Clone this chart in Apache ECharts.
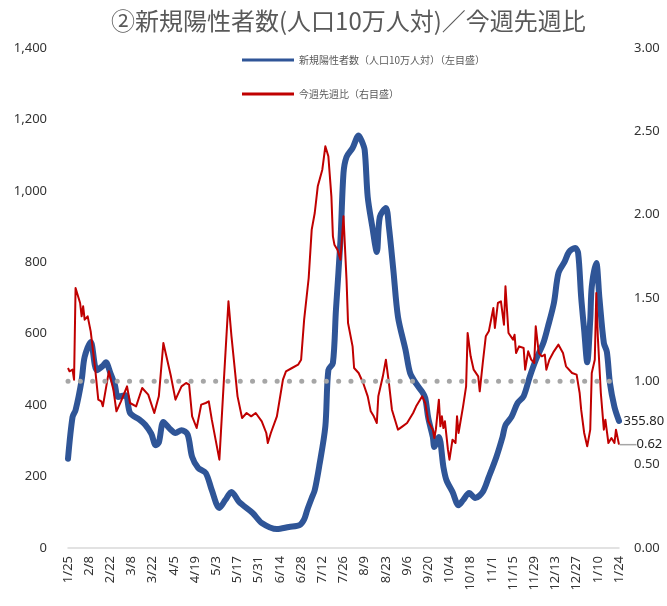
<!DOCTYPE html>
<html>
<head>
<meta charset="utf-8">
<script src="https://cdn.jsdelivr.net/npm/echarts@6/dist/echarts.min.js"></script>
<style>
  html, body { margin: 0; padding: 0; background: #fff; }
  #chart { width: 667px; height: 606px; }
</style>
</head>
<body>
<div id="chart"></div>
<script>
// daily categories 2022/1/25 .. 2023/1/24
var dates = [];
var start = new Date(2022, 0, 25);
for (var i = 0; i < 365; i++) {
  var d = new Date(start.getFullYear(), start.getMonth(), start.getDate() + i);
  dates.push((d.getMonth() + 1) + "/" + d.getDate());
}

var tickLabels = ["1/25", "2/8", "2/22", "3/8", "3/22", "4/5", "4/19", "5/3", "5/17",
  "5/31", "6/14", "6/28", "7/12", "7/26", "8/9", "8/23", "9/6", "9/20", "10/4",
  "10/18", "11/1", "11/15", "11/29", "12/13", "12/27", "1/10", "1/24"];

// 新規陽性者数（人口10万人対） [日, 値]
var casesPoints = [
  [0,250],[3,367],[5,386],[9,470],[11,535],[15,577],[19,498],[23,510],[25,520],[28,490],
  [31,456],[33,423],[38,428],[41,378],[47,360],[51,345],[55,320],[58,288],[60,295],[63,353],
  [67,335],[71,322],[75,330],[79,318],[82,255],[86,224],[91,210],[95,162],[100,112],[104,135],
  [108,157],[113,129],[122,98],[128,70],[138,53],[146,59],[153,64],[156,80],[158,106],[161,140],
  [163,162],[166,230],[170,340],[172,498],[175,518],[177,666],[180,862],[182,1050],[184,1095],[188,1120],
  [192,1155],[194,1140],[196,1114],[198,983],[201,900],[204,829],[206,927],[210,952],[212,899],[215,775],
  [218,647],[223,554],[226,490],[230,460],[234,437],[236,420],[238,364],[241,311],[242,283],[245,311],
  [248,227],[250,190],[254,157],[258,120],[261,134],[265,154],[269,140],[274,157],[278,199],[283,255],
  [287,310],[289,344],[293,367],[297,406],[301,425],[305,479],[309,526],[314,574],[317,619],[321,686],
  [324,770],[328,801],[331,829],[335,840],[337,826],[339,703],[341,610],[343,520],[345,638],[346,731],
  [349,798],[351,703],[354,574],[356,549],[358,462],[361,395],[364,355.8]
];

// 今週先週比 [日, 値]
var ratioPoints = [
  [0,1.08],[1,1.06],[3,1.07],[4,1.01],[5,1.56],[8,1.47],[9,1.39],[10,1.45],[11,1.37],[13,1.39],
  [15,1.30],[18,1.07],[20,0.89],[22,0.88],[23,0.85],[27,1.06],[30,0.95],[32,0.82],[35,0.88],[39,0.97],
  [41,0.87],[45,0.85],[49,0.96],[53,0.92],[57,0.81],[60,0.91],[63,1.23],[65,1.15],[68,1.03],[71,0.89],
  [75,0.97],[78,0.99],[80,0.98],[82,0.79],[85,0.72],[88,0.86],[91,0.87],[93,0.88],[95,0.77],[100,0.53],
  [103,1.01],[106,1.48],[108,1.27],[112,0.91],[115,0.78],[118,0.81],[121,0.79],[124,0.81],[128,0.76],[131,0.69],
  [132,0.63],[134,0.69],[138,0.79],[140,0.90],[142,1.01],[144,1.06],[148,1.08],[152,1.10],[154,1.13],[156,1.37],
  [159,1.62],[161,1.91],[163,2.01],[165,2.17],[166,2.18],[168,2.27],[170,2.41],[172,2.35],[174,2.11],[175,1.87],
  [176,1.82],[178,1.79],[180,1.73],[182,1.99],[184,1.61],[185,1.35],[188,1.21],[189,1.08],[192,1.05],[195,0.99],
  [198,0.91],[200,0.82],[202,0.79],[204,0.75],[205,0.91],[208,1.03],[210,1.13],[212,0.99],[214,0.83],[216,0.77],
  [218,0.71],[221,0.73],[224,0.75],[228,0.81],[230,0.85],[234,0.91],[236,0.87],[238,0.76],[241,0.71],[242,0.66],
  [243,0.71],[245,0.89],[246,0.73],[247,0.79],[248,0.72],[249,0.76],[251,0.59],[252,0.53],[254,0.65],[256,0.63],
  [257,0.79],[258,0.69],[261,0.85],[263,0.97],[264,1.29],[266,1.15],[268,1.07],[271,1.03],[272,0.94],[274,1.11],
  [276,1.27],[278,1.30],[281,1.44],[282,1.32],[284,1.47],[286,1.48],[288,1.34],[289,1.57],[291,1.29],[294,1.25],
  [295,1.28],[296,1.17],[298,1.21],[301,1.20],[302,1.07],[304,1.18],[306,1.13],[308,1.11],[309,1.33],[311,1.17],
  [313,1.15],[315,1.16],[316,1.07],[318,1.13],[321,1.18],[324,1.22],[327,1.17],[329,1.09],[333,1.05],[336,1.04],
  [338,0.93],[339,0.83],[341,0.69],[343,0.61],[345,0.71],[346,1.05],[348,1.13],[349,1.53],[350,1.27],[352,0.93],
  [354,0.71],[355,0.77],[356,0.70],[357,0.63],[359,0.66],[361,0.63],[362,0.71],[364,0.62]
];

// 比 = 1.00 の基準線
var baseLine = [[0, 1], [364, 1]];

var numFont = "Noto Sans";
var jpFont = "Noto Sans CJK JP";

// only the last point carries a (transparent) symbol so that its label is drawn
function withEndLabel(points, labelOpt) {
  return points.map(function (p, i) {
    if (i === points.length - 1) {
      return {
        value: p, symbol: "circle", symbolSize: 1,
        itemStyle: { color: "rgba(0,0,0,0)", borderWidth: 0 },
        label: labelOpt
      };
    }
    return { value: p, symbol: "none" };
  });
}

var myChart = echarts.init(document.getElementById("chart"));
myChart.setOption({
  backgroundColor: "#fff",
  animation: false,
  title: {
    text: "②新規陽性者数(人口10万人対)／今週先週比",
    left: 106,
    top: 4,
    textStyle: { fontFamily: jpFont, fontSize: 24, fontWeight: "normal", color: "#595959" }
  },
  legend: {
    orient: "vertical",
    left: 242,
    top: 53,
    padding: 0,
    itemWidth: 52,
    itemHeight: 3,
    itemGap: 20,
    icon: "rect",
    data: ["新規陽性者数（人口10万人対）（左目盛）", "今週先週比（右目盛）"],
    textStyle: { fontFamily: jpFont, fontSize: 10, color: "#595959", lineHeight: 14 }
  },
  grid: { left: 68, right: 48, top: 48, bottom: 58 },
  xAxis: {
    type: "category",
    data: dates,
    boundaryGap: false,
    axisLine: { lineStyle: { color: "#d9d9d9", width: 1.5 } },
    axisTick: { show: false },
    axisLabel: {
      rotate: 90,
      fontFamily: numFont,
      fontSize: 13,
      color: "#333",
      margin: 8,
      interval: function (idx, val) { return tickLabels.indexOf(val) >= 0; }
    },
    splitLine: { show: false }
  },
  yAxis: [
    {
      type: "value", min: 0, max: 1400, interval: 200,
      axisLine: { show: false }, axisTick: { show: false }, splitLine: { show: false },
      axisLabel: {
        fontFamily: numFont, fontSize: 13, color: "#333", margin: 21,
        formatter: function (v) { return v.toLocaleString("en-US"); }
      }
    },
    {
      type: "value", min: 0, max: 3, interval: 0.5,
      axisLine: { show: false }, axisTick: { show: false }, splitLine: { show: false },
      axisLabel: {
        fontFamily: numFont, fontSize: 13, color: "#333", margin: 15,
        formatter: function (v) { return v.toFixed(2); }
      }
    }
  ],
  series: [
    {
      name: "新規陽性者数（人口10万人対）（左目盛）",
      type: "line",
      yAxisIndex: 0,
      showSymbol: true,
      showAllSymbol: true,
      smooth: 0.3,
      color: "#2f5597",
      lineStyle: { color: "#2f5597", width: 6, cap: "round", join: "round" },
      data: withEndLabel(casesPoints, {
        show: true, position: "right", distance: 4,
        fontFamily: numFont, fontSize: 13, color: "#222",
        formatter: function (p) { return p.value[1].toFixed(2); }
      })
    },
    {
      name: "今週先週比（右目盛）",
      type: "line",
      yAxisIndex: 1,
      showSymbol: true,
      showAllSymbol: true,
      color: "#c00000",
      lineStyle: { color: "#c00000", width: 2, join: "round" },
      labelLayout: { dx: 11 },
      labelLine: { show: true, lineStyle: { color: "#a6a6a6", width: 1.5 } },
      data: withEndLabel(ratioPoints, {
        show: true, position: "right", distance: 6,
        fontFamily: numFont, fontSize: 13, color: "#222",
        formatter: function (p) { return p.value[1].toFixed(2); }
      })
    },
    {
      name: "基準",
      type: "line",
      yAxisIndex: 1,
      showSymbol: false,
      symbol: "none",
      silent: true,
      lineStyle: { color: "#a6a6a6", width: 5, type: [0.1, 12.2], cap: "round" },
      data: baseLine
    }
  ]
});
</script>
</body>
</html>
